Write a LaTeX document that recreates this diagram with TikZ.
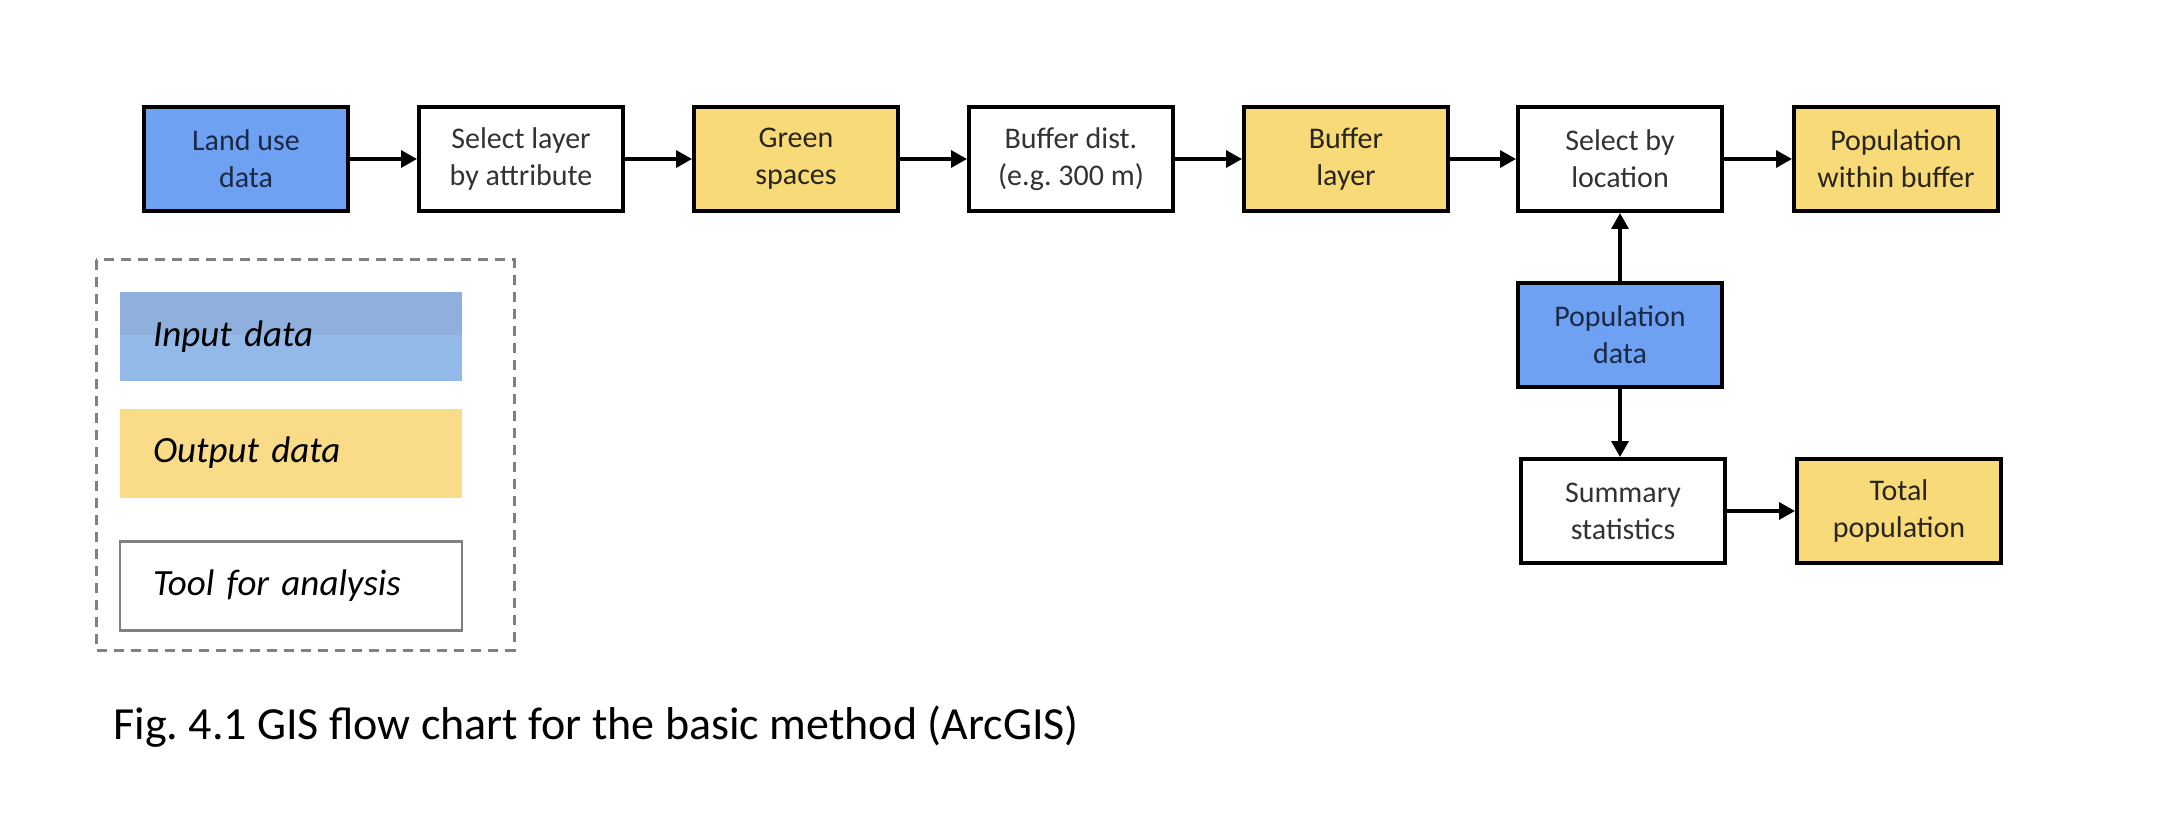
\documentclass[tikz,border=0pt]{standalone}
\usepackage{fontspec}
\setmainfont{Carlito}
\frenchspacing
\usetikzlibrary{arrows.meta}
\definecolor{inblue}{HTML}{6FA1F2}
\definecolor{outyellow}{HTML}{F9DA78}
\definecolor{leginA}{HTML}{8FAFDD}
\definecolor{leginB}{HTML}{93B9E9}
\definecolor{legout}{HTML}{FADB87}
\definecolor{txtblue}{HTML}{1A2A46}
\definecolor{txtgray}{HTML}{333333}
\definecolor{txtyel}{HTML}{28251A}
\definecolor{dashgray}{HTML}{808080}
\tikzset{
  stepbox/.style={draw=black, line width=2pt, rectangle, minimum width=102pt, minimum height=52pt,
    align=center, inner sep=0pt, font=\fontsize{15pt}{18.5pt}\selectfont},
  inbox/.style={stepbox, fill=inblue, text=txtblue},
  outbox/.style={stepbox, fill=outyellow, text=txtyel},
  toolbox/.style={stepbox, fill=white, text=txtgray},
  flow/.style={line width=1.7pt, -{Triangle[length=8pt,width=8.5pt]}},
  legbox/.style={rectangle, minimum width=171pt, minimum height=44.5pt, inner xsep=16.5pt,
    text width=138pt, align=left, font=\fontsize{18.5pt}{22pt}\selectfont\itshape, text=black}
}
\begin{document}
\begin{tikzpicture}[x=0.5pt,y=-0.5pt]
\useasboundingbox (0,0) rectangle (2162,818);
% top row
\node[inbox]   (land)   at (246,159)  {Land use\\data};
\node[toolbox] (sel)    at (521,159)  {Select layer\\by attribute};
\node[outbox]  (green)  at (796,159)  {Green\\spaces};
\node[toolbox] (bdist)  at (1071,159) {Buffer dist.\\(e.g. 300 m)};
\node[outbox]  (blayer) at (1346,159) {Buffer\\layer};
\node[toolbox] (sloc)   at (1620,159) {Select by\\location};
\node[outbox]  (popin)  at (1896,159) {Population\\within buffer};
% lower part
\node[inbox]   (popdata) at (1620,335) {Population\\data};
\node[toolbox] (summary) at (1623,511) {Summary\\statistics};
\node[outbox]  (total)   at (1899,511) {Total\\population};
% connectors
\draw[flow] (land) -- (sel);
\draw[flow] (sel) -- (green);
\draw[flow] (green) -- (bdist);
\draw[flow] (bdist) -- (blayer);
\draw[flow] (blayer) -- (sloc);
\draw[flow] (sloc) -- (popin);
\draw[flow] (popdata) -- (sloc);
\draw[flow] (popdata.south) -- (popdata.south |- summary.north);
\draw[flow] (summary) -- (total);
% legend
\draw[dashgray, line width=1.5pt, dash pattern=on 5pt off 3.5pt] (96,260) rectangle (514,650);
\node[legbox, fill=leginB, path picture={\fill[leginA] (path picture bounding box.north west) rectangle ([yshift=-21.5pt]path picture bounding box.north east);}] (legin) at (291,336.5) {\raisebox{1pt}{Input data}};
\node[legbox, fill=legout] (legout) at (291,453) {Output data};
\node[legbox, draw=dashgray, line width=1.3pt, fill=white] (legtool) at (291,586) {Tool for analysis};
% caption
\node[anchor=west, inner sep=0pt, font=\fontsize{23pt}{27pt}\selectfont] (caption) at (113,727) {Fig. 4.1 GIS flow chart for the basic method (ArcGIS)};
\end{tikzpicture}
\end{document}
